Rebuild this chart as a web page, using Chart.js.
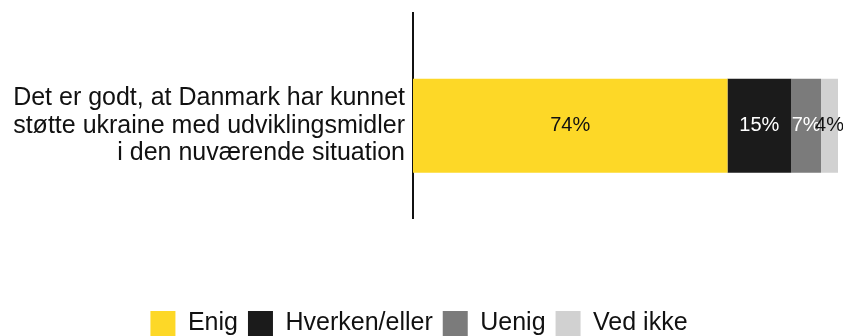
<!DOCTYPE html>
<html lang="da">
<head>
<meta charset="utf-8">
<title>Støtte til Ukraine</title>
<script src="https://cdn.jsdelivr.net/npm/chart.js@4.4.1/dist/chart.umd.min.js"></script>
<style>
  html, body { margin: 0; padding: 0; background: #fff; overflow: hidden; }
  #wrap { position: relative; width: 843px; height: 346px; }
</style>
</head>
<body>
<div id="wrap"><canvas id="myChart"></canvas></div>
<script>
// survey question (one row) and the answer shares in percent
const questions = [["Det er godt, at Danmark har kunnet", "støtte ukraine med udviklingsmidler", "i den nuværende situation"]];
const answerLabels = ["Enig", "Hverken/eller", "Uenig", "Ved ikke"];
const enig = [74];
const hverkenEller = [15];
const uenig = [7];
const vedIkke = [4];

const answerColors = ["#fdd827", "#1b1b1b", "#7b7b7b", "#d1d1d1"];
const valueTextColors = ["#111111", "#ffffff", "#ffffff", "#111111"];
const fontFamily = "'Liberation Sans', Arial, sans-serif";

// writes the percentage in the middle of every bar segment
const segmentLabels = {
  id: "segmentLabels",
  afterDatasetsDraw(chart) {
    const ctx = chart.ctx;
    ctx.save();
    ctx.font = "20px " + fontFamily;
    ctx.textAlign = "center";
    ctx.textBaseline = "middle";
    chart.data.datasets.forEach((ds, i) => {
      const meta = chart.getDatasetMeta(i);
      meta.data.forEach((bar, j) => {
        const c = bar.getCenterPoint();
        ctx.fillStyle = valueTextColors[i];
        ctx.fillText(ds.data[j].x + "%", c.x, c.y);
      });
    });
    ctx.restore();
  }
};

const seriesValues = [enig, hverkenEller, uenig, vedIkke];

new Chart("myChart", {
  type: "bar",
  data: {
    datasets: answerLabels.map((name, i) => ({
      label: name,
      // question index on the y axis, share on the x axis
      data: seriesValues[i].map((v, q) => ({ x: v, y: q })),
      backgroundColor: answerColors[i],
      borderWidth: 0,
      barPercentage: 0.9,
      categoryPercentage: 0.51
    }))
  },
  plugins: [segmentLabels],
  options: {
    indexAxis: "y",
    responsive: true,
    maintainAspectRatio: false,
    animation: false,
    layout: { padding: { top: 13, right: 5, bottom: 0, left: 0 } },
    scales: {
      x: {
        stacked: true,
        min: 0,
        max: 100,
        grid: { display: false },
        border: { display: false },
        ticks: { display: false },
        afterFit(scale) { scale.height = 83; }
      },
      y: {
        type: "linear",
        stacked: true,
        offset: false,
        bounds: "data",
        min: -0.45,
        max: 0.55,
        grid: { display: false, drawTicks: false },
        border: { display: true, color: "#111", width: 2 },
        afterBuildTicks(scale) {
          scale.ticks = questions.map((q, i) => ({ value: i }));
        },
        ticks: {
          color: "#111",
          padding: 8,
          font: { family: fontFamily, size: 25, lineHeight: 1.1 },
          callback: (value) => questions[value]
        },
        afterFit(scale) {
          // the three-line label sits inside the axis, so no extra room above or below
          scale.width = 413;
          scale.paddingTop = 0;
          scale.paddingBottom = 0;
        }
      }
    },
    plugins: {
      legend: {
        position: "bottom",
        labels: {
          boxWidth: 25,
          boxHeight: 25,
          padding: 10,
          color: "#111",
          font: { family: fontFamily, size: 25 }
        }
      },
      tooltip: { enabled: false }
    }
  }
});
</script>
</body>
</html>
